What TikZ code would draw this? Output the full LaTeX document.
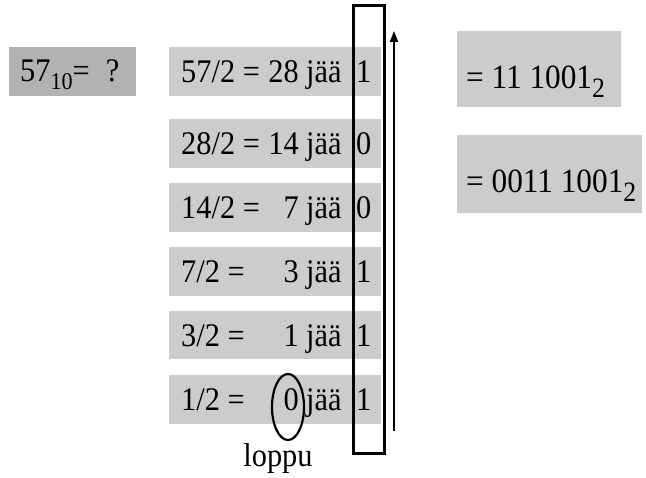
\documentclass[tikz,border=0pt]{standalone}
\usepackage{fontspec}
\setmainfont{Liberation Serif}[FakeStretch=0.92]
\usetikzlibrary{shapes.geometric,arrows.meta}
\tikzset{
  txt/.style={inner sep=0pt,font=\fontsize{33}{38}\selectfont},
  bigtxt/.style={inner sep=0pt,font=\fontsize{34}{40}\selectfont},
  rowfill/.style={fill=gray!40},
}
\begin{document}
\begin{tikzpicture}[x=1pt,y=-1pt]
            \useasboundingbox (0,0) rectangle (646,478);
            % harmaat laatikot
            \fill[gray!60] (9,47) rectangle (136,96);
            \fill[rowfill] (169,47) rectangle (381,96);
            \fill[rowfill] (169,119) rectangle (381,168);
            \fill[rowfill] (169,183) rectangle (381,232);
            \fill[rowfill] (169,247) rectangle (381,296);
            \fill[rowfill] (169,311) rectangle (381,359);
            \fill[rowfill] (169,375) rectangle (381,424);
            \fill[rowfill] (457,31) rectangle (621,107);
            \fill[rowfill] (457,135) rectangle (642,213);
            % kysymys
            \node[txt,anchor=base west] (kysy) at (20,82) {57\raisebox{-8pt}{\fontsize{24}{24}\selectfont 10}=\hspace{16pt}?};
            % jakolaskut
            \node[txt,anchor=base west] (j1) at (181,83) {57/2 =};
            \node[txt,anchor=base west] (j2) at (181,155) {28/2 =};
            \node[txt,anchor=base west] (j3) at (181,219) {14/2 =};
            \node[txt,anchor=base west] (j4) at (181,283) {7/2 =};
            \node[txt,anchor=base west] (j5) at (181,347) {3/2 =};
            \node[txt,anchor=base west] (j6) at (181,411) {1/2 =};
            \node[txt,anchor=base east] (o1) at (299,83) {28};
            \node[txt,anchor=base east] (o2) at (299,155) {14};
            \node[txt,anchor=base east] (o3) at (299,219) {7};
            \node[txt,anchor=base east] (o4) at (299,283) {3};
            \node[txt,anchor=base east] (o5) at (299,347) {1};
            \node[txt,anchor=base east] (o6) at (299,411) {0};
            \node[txt,anchor=base west] (r1) at (306,83) {jää};
            \node[txt,anchor=base west] (r2) at (306,155) {jää};
            \node[txt,anchor=base west] (r3) at (306,219) {jää};
            \node[txt,anchor=base west] (r4) at (306,283) {jää};
            \node[txt,anchor=base west] (r5) at (306,347) {jää};
            \node[txt,anchor=base west] (r6) at (306,411) {jää};
            \node[txt,anchor=base west] (b1) at (356,83) {1};
            \node[txt,anchor=base west] (b2) at (356,155) {0};
            \node[txt,anchor=base west] (b3) at (356,219) {0};
            \node[txt,anchor=base west] (b4) at (356,283) {1};
            \node[txt,anchor=base west] (b5) at (356,347) {1};
            \node[txt,anchor=base west] (b6) at (356,411) {1};
            % loppu
            \node[draw,ellipse,line width=2.2pt,minimum width=32pt,minimum height=66pt] (nolla) at (288,407) {};
            \node[txt,anchor=base] (loppu) at (278,467) {loppu};
            % tulos
            \node[bigtxt,anchor=base west] (t1) at (466,89) {= 11 1001\raisebox{-9pt}{\fontsize{28}{28}\selectfont 2}};
            \node[bigtxt,anchor=base west] (t2) at (466,193) {= 0011 1001\raisebox{-9pt}{\fontsize{28}{28}\selectfont 2}};
            % kehys ja nuoli
            \draw[line width=3pt] (353,6) rectangle (384,454);
            \coordinate (ala) at (394,431);
            \coordinate (yla) at (394,31);
            \draw[line width=2pt,-{Triangle[length=11pt,width=8pt]}] (ala) -- (yla);
        \end{tikzpicture}
\end{document}
